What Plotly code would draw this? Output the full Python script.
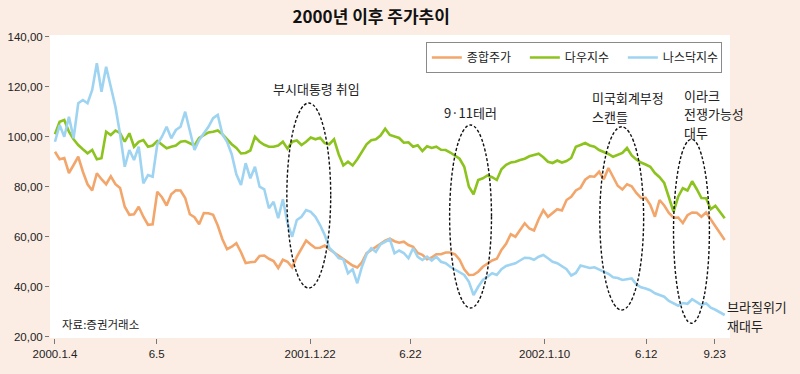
import pandas as pd
import plotly.graph_objects as go

# ---------------- data ----------------
start_date = "2000-01-04"
n_weeks = 145
dates = pd.date_range(start_date, periods=n_weeks, freq="7D")

kospi = [
    94, 91, 91.5, 85.5, 88.7, 92, 86, 81, 78.5, 85.4,
    83, 81, 84.2, 81, 79.5, 72, 68.8, 69, 72, 68,
    64.8, 65, 78, 75.8, 72.5, 77, 78.6, 78.5, 75.5, 69,
    67.8, 65, 69.5, 69.4, 68.8, 64.5, 59, 55, 56, 57.4,
    53.8, 49.5, 49.8, 50, 52.3, 52.5, 51.2, 50.3, 47.5, 50.8,
    50, 47.8, 52, 55, 58.5, 56.9, 55.5, 55.6, 56.5, 55,
    53.7, 52.5, 51.2, 50.1, 48.5, 47.7, 49.8, 53.4, 54.6, 55.8,
    57.1, 58.4, 59.2, 58.2, 57.6, 58, 56.7, 56, 53.5, 52.8,
    51, 51.7, 53, 53, 53.7, 53.7, 53, 50.8, 47, 44.7,
    44.8, 46, 48, 49.3, 50.5, 51.2, 54.7, 57.2, 61, 60,
    62.5, 65.4, 63.3, 62.5, 67, 70.6, 68, 69.6, 71, 70.5,
    74.7, 76, 78.5, 79.6, 82.8, 84.2, 84, 86, 83, 87.5,
    83.8, 80.4, 78.9, 81, 80.2, 77.5, 75.5, 75.6, 72.8, 68,
    74.7, 72.5, 69.5, 67.6, 67.7, 65.5, 68.6, 69.7, 69.6, 68,
    69.7, 67, 63.9, 61.5, 58.7,
]

dow = [
    101, 106, 106.7, 102, 99, 96.7, 95, 93.4, 94.7, 91,
    91.4, 102, 100.7, 102.5, 101.4, 98, 101.4, 96, 98, 98.7,
    96, 96.5, 98.3, 97, 95.4, 96, 96.5, 98, 98.3, 97.4,
    96.5, 99.5, 100.7, 101.7, 102, 102.5, 101, 99, 97, 95.5,
    93.3, 93.5, 94.5, 100, 98, 96.8, 96, 96, 96.5, 98,
    95.2, 98, 98.5, 96.7, 98, 99.7, 99, 99.6, 97.5, 97,
    99, 93, 88.5, 90, 88.5, 91, 94, 97, 98.6, 99,
    100.5, 103.2, 100.7, 100, 99.5, 97.6, 97.8, 96, 96.6, 94.3,
    96.2, 95.5, 96, 94.8, 94.7, 93.7, 92.4, 91.2, 88, 80,
    77, 82.7, 83.4, 84.5, 83.8, 82.7, 87, 88.8, 89.7, 90,
    90.7, 91.2, 92.2, 92.8, 93.2, 91.8, 90, 89.5, 90.5, 89.7,
    90.3, 91.5, 96, 96.7, 97.5, 96.5, 96, 94.7, 94, 93.1,
    92, 92.6, 93.5, 95.5, 92.5, 90.9, 89.7, 88.9, 88, 85.5,
    83.8, 81.5, 76, 70, 76, 79.4, 78.5, 82.2, 79, 75.5,
    75.4, 71, 72.4, 70, 67.4,
]

nasdaq = [
    98, 104.7, 100, 108, 99.4, 113.4, 114.7, 113.4, 118.7, 129.4,
    118, 128, 120, 112, 101, 88, 94.7, 90.7, 96, 81.4,
    84.7, 84, 97, 100, 104, 99.4, 102.7, 104, 110, 102.7,
    94.7, 98.7, 101.4, 104, 107.4, 108.7, 101, 98, 93, 85,
    80.7, 89.4, 83.4, 88, 80, 79, 71.4, 74, 67.4, 75,
    65.4, 60, 66.7, 68, 70.7, 70, 68, 64.7, 60.7, 55.5,
    53.7, 51.5, 51, 45.4, 47, 41.4, 48, 53, 55.4, 54,
    57, 58, 59, 53.4, 54.5, 53.5, 51.4, 55.4, 52, 50.7,
    52, 50.5, 52, 50, 49.4, 48, 47, 46, 44.7, 42,
    36.7, 40, 42.7, 44, 45.4, 44.7, 47, 48.3, 49, 49.4,
    50.5, 51.6, 51.5, 50.8, 52, 52.7, 51.4, 50, 49.4, 48.2,
    47, 44.5, 45.5, 48.5, 48, 47.5, 47.8, 47, 46, 45.2,
    43.8, 43.5, 42.7, 43, 43.3, 41, 39.8, 39.3, 38.6, 37.4,
    36.7, 36, 34.3, 33.5, 32.4, 33.5, 33.2, 35, 34, 32.7,
    33.4, 31.6, 30.8, 29.7, 28.7,
]

series_names = ["종합주가", "다우지수", "나스닥지수"]
series_colors = ["#F3A66B", "#8CC31E", "#9ED4F2"]

x_tick_dates = ["2000-01-04", "2000-06-05", "2001-01-22", "2001-06-22",
                "2002-01-10", "2002-06-12", "2002-09-23"]
x_tick_labels = ["2000.1.4", "6.5", "2001.1.22", "6.22", "2002.1.10", "6.12", "9.23"]
y_tick_vals = [20, 40, 60, 80, 100, 120, 140]
y_tick_labels = ["20,00", "40,00", "60,00", "80,00", "100,00", "120,00", "140,00"]

# event ellipses: (x0, x1, y0, y1)
ellipses = [
    ("2000-12-18", "2001-02-22", 39.5, 113.5),
    ("2001-08-20", "2001-10-22", 31.5, 104.7),
    ("2002-04-03", "2002-06-08", 30.7, 104.0),
    ("2002-07-23", "2002-09-15", 25.4, 99.0),
]
# event labels: (text line, x, y, xanchor)
event_labels = [
    ("부시대통령 취임", "2001-01-31", 119.2, "center"),
    ("9·11테러", "2001-09-20", 109.8, "center"),
    ("미국회계부정", "2002-03-19", 115.9, "left"),
    ("스캔들", "2002-03-19", 108.3, "left"),
    ("이라크", "2002-08-05", 116.7, "left"),
    ("전쟁가능성", "2002-08-05", 109.3, "left"),
    ("대두", "2002-08-05", 101.9, "left"),
    ("브라질위기", "2002-10-09", 32.3, "left"),
    ("재대두", "2002-10-09", 24.7, "left"),
]
source_note = "자료:증권거래소"

FONT = "Noto Sans CJK KR"
TICKFONT = "Liberation Sans"

fig = go.Figure()
for name, color, vals in zip(series_names, series_colors, [kospi, dow, nasdaq]):
    fig.add_trace(go.Scatter(
        x=dates, y=vals, mode="lines", name=name,
        line=dict(color=color, width=2.6),
    ))

for ex0, ex1, ey0, ey1 in ellipses:
    fig.add_shape(type="circle", xref="x", yref="y",
                  x0=ex0, x1=ex1, y0=ey0, y1=ey1,
                  line=dict(color="#111111", width=1.4, dash="3px,2px"))

for text, tx, ty, anchor in event_labels:
    fig.add_annotation(x=tx, y=ty, xref="x", yref="y", text=text,
                       showarrow=False, xanchor=anchor, yanchor="middle",
                       font=dict(family=FONT, size=13, color="#222"))

fig.add_annotation(x=0.015, y=0.045, xref="paper", yref="paper",
                   text=source_note, showarrow=False,
                   xanchor="left", yanchor="middle",
                   font=dict(family=FONT, size=11.5, color="#222"))

fig.update_layout(
    width=800, height=374,
    margin=dict(l=50, r=70, t=35, b=36),
    paper_bgcolor="#FBEDE4",
    plot_bgcolor="white",
    title=dict(text="<b>2000년 이후 주가추이</b>", x=0.464, xanchor="center",
               y=0.955, yanchor="middle",
               font=dict(family=FONT, size=17, color="#111")),
    font=dict(family=FONT, size=12, color="#222"),
    showlegend=True,
    legend=dict(orientation="h", x=0.988, xanchor="right", y=0.977, yanchor="top",
                bgcolor="white", bordercolor="#8a8a8a", borderwidth=1,
                font=dict(family=FONT, size=12, color="#222"),
                itemwidth=30, entrywidth=53, entrywidthmode="pixels"),
    xaxis=dict(type="date", range=["1999-12-27 12:00", "2002-10-16"],
               showgrid=False, zeroline=False, showline=False, automargin=False,
               tickmode="array", tickvals=x_tick_dates, ticktext=x_tick_labels,
               ticks="outside", ticklen=5, tickcolor="#777", tickwidth=1,
               tickfont=dict(family=TICKFONT, size=11.5, color="#222")),
    yaxis=dict(range=[19.5, 140.7], showgrid=False, zeroline=False, showline=False,
               automargin=False,
               tickmode="array", tickvals=y_tick_vals, ticktext=y_tick_labels,
               ticks="outside", ticklen=4, tickcolor="#777", tickwidth=1,
               tickfont=dict(family=TICKFONT, size=11.5, color="#222")),
)

fig.write_html(
    "out.html",
    config={"displayModeBar": False},
    post_script="document.body.style.margin='0';document.body.style.background='#FBEDE4';",
)
